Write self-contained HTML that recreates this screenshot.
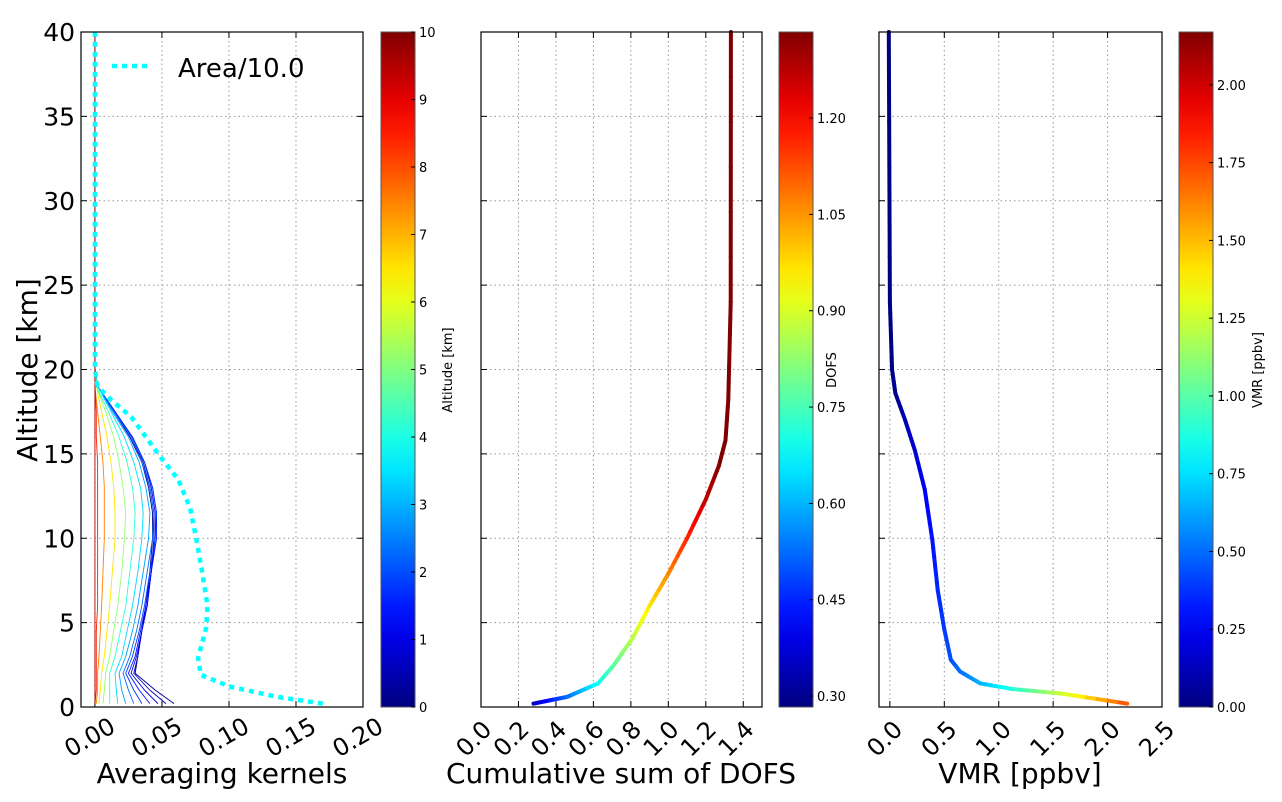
<!DOCTYPE html>
<html><head><meta charset="utf-8"><style>
body{margin:0;background:#fff}
svg{display:block;font-family:"DejaVu Sans","Liberation Sans",sans-serif}
</style></head><body>
<svg id="fig" width="1282" height="802" viewBox="0 0 1282 802"></svg>
<script>
// ---------- data ----------
const akAlt = [0.2, 1, 2, 3, 4.5, 6, 8, 10, 11.5, 13, 14.5, 16, 17.5, 19, 20, 40];
const akLevels = [0.2, 0.6, 1.0, 1.4, 1.8, 2.3, 2.8, 3.4, 4.2, 5.2, 6.5, 7.5, 8.5, 9.5];
const akValues = [
 [0.059,0.045,0.030,0.032,0.035,0.038,0.041,0.043,0.043,0.040,0.035,0.026,0.014,0.002,0,0],
 [0.053,0.041,0.029,0.032,0.035,0.039,0.042,0.044,0.044,0.041,0.036,0.027,0.015,0.002,0,0],
 [0.047,0.037,0.027,0.031,0.035,0.039,0.042,0.045,0.045,0.042,0.037,0.028,0.015,0.002,0,0],
 [0.041,0.033,0.025,0.030,0.034,0.038,0.042,0.046,0.046,0.043,0.037,0.028,0.015,0.002,0,0],
 [0.035,0.029,0.023,0.028,0.033,0.037,0.041,0.045,0.046,0.043,0.037,0.028,0.015,0.002,0,0],
 [0.029,0.025,0.021,0.026,0.031,0.035,0.039,0.043,0.044,0.041,0.035,0.027,0.014,0.002,0,0],
 [0.023,0.020,0.018,0.023,0.028,0.032,0.036,0.040,0.041,0.038,0.033,0.025,0.013,0.002,0,0],
 [0.017,0.016,0.015,0.020,0.024,0.028,0.032,0.035,0.036,0.034,0.029,0.022,0.012,0.002,0,0],
 [0.011,0.011,0.011,0.015,0.019,0.023,0.026,0.029,0.030,0.028,0.024,0.018,0.010,0.001,0,0],
 [0.006,0.007,0.008,0.011,0.014,0.017,0.020,0.022,0.023,0.021,0.018,0.014,0.008,0.001,0,0],
 [0.003,0.004,0.005,0.007,0.009,0.011,0.013,0.015,0.015,0.014,0.012,0.009,0.005,0.001,0,0],
 [0.001,0.002,0.002,0.003,0.004,0.005,0.006,0.007,0.007,0.007,0.006,0.004,0.002,0,0,0],
 [0,0.001,0.001,0.001,0.001,0.002,0.002,0.002,0.002,0.002,0.002,0.001,0.001,0,0,0],
 [0,0,0,0,0,0,0,0,0,0,0,0,0,0,0,0]
];
const areaAlt = [0.2, 0.6, 1.2, 1.9, 2.9, 4.7, 6.0, 8.0, 9.8, 11.8, 13.5, 14.8, 17.2, 18.2, 19.0, 20.0, 40];
const areaVal = [0.170, 0.136, 0.101, 0.079, 0.077, 0.083, 0.084, 0.080, 0.076, 0.071, 0.062, 0.049, 0.027, 0.012, 0.002, 0, 0];
const dofsAlt = [0.2, 0.6, 1.4, 2.5, 4.1, 6.0, 7.9, 10.0, 12.3, 14.3, 15.8, 18.2, 24, 40];
const dofsVal = [0.28, 0.46, 0.625, 0.71, 0.81, 0.90, 1.0, 1.10, 1.2, 1.27, 1.305, 1.32, 1.333, 1.334];
const vmrAlt = [0.2, 0.8, 1.07, 1.4, 2.1, 2.8, 4.6, 6.9, 9.9, 12.9, 15.2, 17.0, 18.6, 20.0, 24, 40];
const vmrVal = [2.18, 1.57, 1.12, 0.83, 0.645, 0.56, 0.5, 0.44, 0.39, 0.32, 0.23, 0.14, 0.05, 0.02, 0.0, -0.01];
const yTicks = [0,5,10,15,20,25,30,35,40];
const x1Ticks = ["0.00","0.05","0.10","0.15","0.20"];
const x2Ticks = ["0.0","0.2","0.4","0.6","0.8","1.0","1.2","1.4"];
const x3Ticks = ["0.0","0.5","1.0","1.5","2.0","2.5"];
const cb1Ticks = ["0","1","2","3","4","5","6","7","8","9","10"];
const cb2Ticks = ["0.30","0.45","0.60","0.75","0.90","1.05","1.20"];
const cb3Ticks = ["0.00","0.25","0.50","0.75","1.00","1.25","1.50","1.75","2.00"];

// ---------- helpers ----------
const NS="http://www.w3.org/2000/svg", svg=document.getElementById('fig');
function mk(tag,attrs,parent){const e=document.createElementNS(NS,tag);for(const k in attrs)e.setAttribute(k,attrs[k]);(parent||svg).appendChild(e);return e;}
function jet(t){t=Math.max(0,Math.min(1,t));
 const r=Math.max(0,Math.min(1,Math.min(4*t-1.5,-4*t+4.5)));
 const g=Math.max(0,Math.min(1,Math.min(4*t-0.5,-4*t+3.5)));
 const b=Math.max(0,Math.min(1,Math.min(4*t+0.5,-4*t+2.5)));
 return `rgb(${Math.round(r*255)},${Math.round(g*255)},${Math.round(b*255)})`;}
const TOP=32, BOT=707;
const yS = a => BOT - (a/40)*(BOT-TOP);
function xScale(x0,x1,v0,v1){return v=>x0+(v-v0)/(v1-v0)*(x1-x0);}
const P1={l:81,r:363,v0:-0.0104,v1:0.20}, P2={l:481,r:762,v0:0,v1:1.5}, P3={l:879,r:1162,v0:-0.1,v1:2.5};
const x1=xScale(P1.l,P1.r,P1.v0,P1.v1), x2=xScale(P2.l,P2.r,P2.v0,P2.v1), x3=xScale(P3.l,P3.r,P3.v0,P3.v1);

const defs=mk('defs',{});
const grad=mk('linearGradient',{id:'jetg',x1:0,y1:1,x2:0,y2:0},defs);
for(let i=0;i<=20;i++){mk('stop',{offset:i/20,'stop-color':jet(i/20)},grad);}

function axes(P,xs,ticks,name,rot,dx,showY){
 const g=mk('g',{});
 
 
 ticks.forEach(t=>{const x=xs(parseFloat(t));
  mk('line',{x1:x,y1:TOP,x2:x,y2:BOT,stroke:'#999','stroke-width':1,'stroke-dasharray':'1.5,3'},g);
  mk('line',{x1:x,y1:BOT,x2:x,y2:BOT-6,stroke:'#000'},g);
  mk('line',{x1:x,y1:TOP,x2:x,y2:TOP+6,stroke:'#000'},g);
  const tx=mk('text',{x:x+dx,y:731,'font-size':24,'text-anchor':'end',transform:`rotate(${rot} ${x+dx} 731)`},g);
  
  
  tx.textContent=t;});
 yTicks.forEach(a=>{const y=yS(a);
  mk('line',{x1:P.l,y1:y,x2:P.r,y2:y,stroke:'#999','stroke-width':1,'stroke-dasharray':'1.5,3'},g);
  mk('line',{x1:P.l,y1:y,x2:P.l+6,y2:y,stroke:'#000'},g);
  mk('line',{x1:P.r,y1:y,x2:P.r-6,y2:y,stroke:'#000'},g);
  if(showY){const tx=mk('text',{x:P.l-6,y:y+9,'font-size':25,'text-anchor':'end'},g);
   
   
   tx.textContent=a;}});
 return g;}
function frame(P){mk('rect',{x:P.l,y:TOP,width:P.r-P.l,height:BOT-TOP,fill:'none',stroke:'#000','stroke-width':1.2});}

function colorbar(x,ticks,v0,v1,label,lx,name){
 const g=mk('g',{});
 
 
 mk('rect',{x:x,y:TOP,width:34,height:BOT-TOP,fill:'url(#jetg)',stroke:'#555','stroke-width':1},g);
 ticks.forEach(t=>{const y=BOT-(parseFloat(t)-v0)/(v1-v0)*(BOT-TOP);
  mk('line',{x1:x+30,y1:y,x2:x+34,y2:y,stroke:'#000'},g);
  const tx=mk('text',{x:x+38,y:y+5,'font-size':13},g);
  
  
  tx.textContent=t;});
 const lt=mk('text',{x:lx,y:370,'font-size':13,'text-anchor':'middle',transform:`rotate(-90 ${lx} 370)`},g);
 
 
 lt.textContent=label;}

function colorLine(xs,vals,alts,cf,name,w){
 const g=mk('g',{});
 
 
 for(let i=0;i<vals.length-1;i++){
  const n=6;
  for(let k=0;k<n;k++){
   const va=vals[i]+(vals[i+1]-vals[i])*k/n, vb=vals[i]+(vals[i+1]-vals[i])*(k+1)/n;
   const aa=alts[i]+(alts[i+1]-alts[i])*k/n, ab=alts[i]+(alts[i+1]-alts[i])*(k+1)/n;
   mk('line',{x1:xs(va),y1:yS(aa),x2:xs(vb),y2:yS(ab),stroke:jet(cf((va+vb)/2)),'stroke-width':w,'stroke-linecap':'round'},g);
  }}}

// ---------- panel 1 ----------
axes(P1,x1,x1Ticks,'kernel',-30,22,true);
const kg=mk('g',{});


akValues.forEach((vals,i)=>{
 const pts=vals.map((v,j)=>`${x1(v)},${yS(akAlt[j])}`).join(' ');
 const pl=mk('polyline',{points:pts,fill:'none',stroke:jet(akLevels[i]/10),'stroke-width':0.9,'stroke-linejoin':'round'},kg);
 
 
});
const ap=mk('polyline',{points:areaVal.map((v,j)=>`${x1(v)},${yS(areaAlt[j])}`).join(' '),fill:'none',stroke:'#00ffff','stroke-width':4.5,'stroke-dasharray':'5,5','stroke-linejoin':'round'});


frame(P1);
const lg=mk('g',{});


mk('line',{x1:112,y1:66,x2:150,y2:66,stroke:'#00ffff','stroke-width':4.5,'stroke-dasharray':'5,5'},lg);
const lt=mk('text',{x:178,y:77,'font-size':26},lg);


lt.textContent='Area/10.0';
colorbar(381,cb1Ticks,0,10,'Altitude [km]',452,'altitude-colorbar');

// ---------- panel 2 ----------
axes(P2,x2,x2Ticks,'dofs',-45,12,false);
colorLine(x2,dofsVal,dofsAlt,v=>(v+0.06-0.283)/(1.334-0.283),'dofs-line',4);
frame(P2);
colorbar(779,cb2Ticks,0.283,1.334,'DOFS',836,'dofs-colorbar');

// ---------- panel 3 ----------
axes(P3,x3,x3Ticks,'vmr',-45,14,false);
colorLine(x3,vmrVal,vmrAlt,v=>0.8*v/2.17,'vmr-line',4);
frame(P3);
colorbar(1179,cb3Ticks,0,2.17,'VMR [ppbv]',1262,'vmr-colorbar');

// ---------- titles ----------
function title(txt,x,y,size,rot,name){const t=mk('text',{x:x,y:y,'font-size':size,'text-anchor':'middle',transform:rot?`rotate(-90 ${x} ${y})`:''});
 
 
 t.textContent=txt;}
title('Altitude [km]',37,370,28,true,'y-axis-title');
title('Averaging kernels',222,783,28,false,'kernel-x-axis-title');
title('Cumulative sum of DOFS',621,783,28,false,'dofs-x-axis-title');
title('VMR [ppbv]',1020,783,28,false,'vmr-x-axis-title');
</script>
</body></html>
